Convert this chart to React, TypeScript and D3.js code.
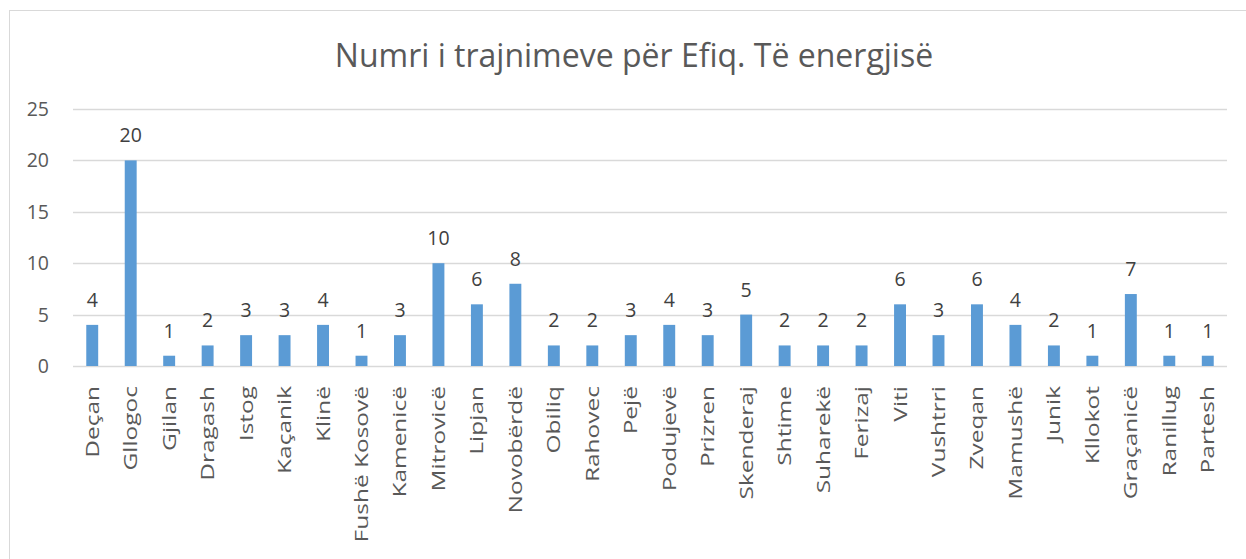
import React, { useEffect, useRef } from 'react';
import * as d3 from 'd3';

const categories = [
  'Deçan', 'Gllogoc', 'Gjilan', 'Dragash', 'Istog', 'Kaçanik', 'Klinë', 'Fushë Kosovë',
  'Kamenicë', 'Mitrovicë', 'Lipjan', 'Novobërdë', 'Obiliq', 'Rahovec', 'Pejë', 'Podujevë',
  'Prizren', 'Skenderaj', 'Shtime', 'Suharekë', 'Ferizaj', 'Viti', 'Vushtrri', 'Zveqan',
  'Mamushë', 'Junik', 'Kllokot', 'Graçanicë', 'Ranillug', 'Partesh',
];
const values = [
  4, 20, 1, 2, 3, 3, 4, 1, 3, 10, 6, 8, 2, 2, 3, 4, 3, 5, 2, 2, 2, 6, 3, 6, 4, 2, 1, 7, 1, 1,
];
const yTicks = [0, 5, 10, 15, 20, 25];
const title = 'Numri i trajnimeve për Efiq. Të energjisë';

const W = 1246;
const H = 559;
const FONT = '"Open Sans", sans-serif';
const TEXT = '#595959';
const GRID = '#D9D9D9';
const BAR = '#5B9BD5';

const App = () => {
  const svgRef = useRef<SVGSVGElement>(null);

  useEffect(() => {
    const svg = d3.select(svgRef.current);
    svg.selectAll('*').remove();

    const left = 73, right = 1227, top = 109, bottom = 366;

    // chart frame (cut off on the right and bottom)
    svg.append('rect')
      .attr('x', 9.5).attr('y', 10.5)
      .attr('width', W).attr('height', H)
      .attr('fill', '#fff').attr('stroke', GRID);

    svg.append('text')
      .attr('x', 634).attr('y', 67)
      .attr('text-anchor', 'middle')
      .attr('font-family', FONT).attr('font-size', 32)
      .attr('fill', TEXT)
      .text(title);

    const x = d3.scaleBand().domain(categories).range([left, right]).padding(0);
    const y = d3.scaleLinear().domain([0, 25]).range([bottom, top]);

    const g = svg.append('g');

    g.selectAll('line.grid')
      .data(yTicks)
      .enter().append('line')
      .attr('x1', left).attr('x2', right)
      .attr('y1', d => Math.round(y(d)) + 0.5).attr('y2', d => Math.round(y(d)) + 0.5)
      .attr('stroke', GRID).attr('stroke-width', 1.3);

    g.selectAll('text.ytick')
      .data(yTicks)
      .enter().append('text')
      .attr('x', 49).attr('y', d => y(d) + 7)
      .attr('text-anchor', 'end')
      .attr('font-family', FONT).attr('font-size', 19.5)
      .attr('fill', TEXT)
      .text(d => d);

    const bw = x.bandwidth() * 0.31;

    g.selectAll('rect.bar')
      .data(values)
      .enter().append('rect')
      .attr('x', (d, i) => x(categories[i])! + x.bandwidth() / 2 - bw / 2)
      .attr('y', d => y(d))
      .attr('width', bw)
      .attr('height', d => bottom - y(d))
      .attr('fill', BAR);

    g.selectAll('text.val')
      .data(values)
      .enter().append('text')
      .attr('x', (d, i) => x(categories[i])! + x.bandwidth() / 2)
      .attr('y', d => y(d) - 18)
      .attr('text-anchor', 'middle')
      .attr('font-family', FONT).attr('font-size', 19.5)
      .attr('fill', '#404040')
      .text(d => d);

    // category labels: rotated and stretched along their length like the source
    g.selectAll('text.cat')
      .data(categories)
      .enter().append('text')
      .attr('transform', d => `translate(${x(d)! + x.bandwidth() / 2 + 6.5},386) rotate(-90) scale(1.36,1)`)
      .attr('text-anchor', 'end')
      .attr('font-family', FONT).attr('font-size', 18)
      .attr('fill', TEXT)
      .text(d => d);
  }, []);

  return (
    <svg ref={svgRef} width={W} height={H} style={{ position: 'absolute', left: 0, top: 0 }} />
  );
};

export default App;
